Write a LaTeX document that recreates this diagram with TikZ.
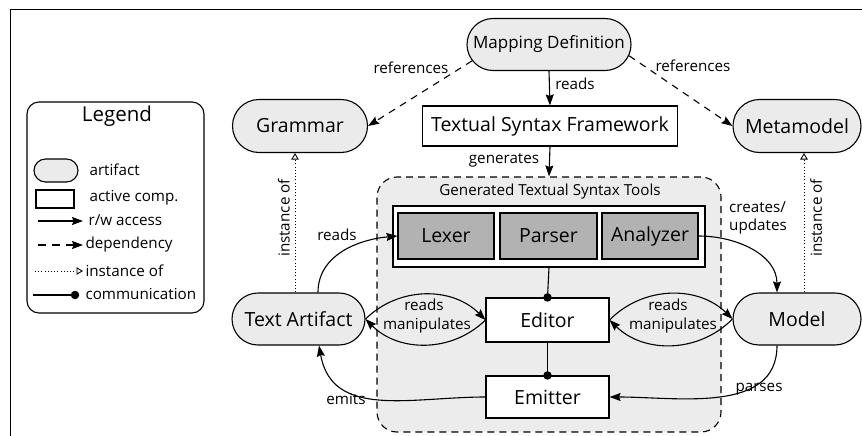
\documentclass[tikz,border=0pt]{standalone}
\usepackage{fontspec}
\setmainfont{Open Sans}
\usetikzlibrary{shapes.misc,arrows.meta}
\definecolor{artgray}{RGB}{235,235,235}
\definecolor{contgray}{RGB}{236,236,236}
\definecolor{innergray}{RGB}{178,178,178}
\begin{document}
\begin{tikzpicture}[x=1pt,y=-1pt,
  line width=1.1pt,
  every node/.style={inner sep=0pt, font=\fontsize{15.2}{17.5}\selectfont},
  art/.style={rounded rectangle, draw, fill=artgray, font=\fontsize{19.5}{22}\selectfont},
  comp/.style={rectangle, draw, fill=white, font=\fontsize{19.5}{22}\selectfont},
  tool/.style={rectangle, draw, fill=innergray, font=\fontsize{19.5}{22}\selectfont, minimum width=96, minimum height=46},
  lbl/.style={font=\fontsize{15.2}{17.5}\selectfont},
  rw/.style={-{Stealth[length=11pt,width=8pt,inset=1.5pt]}},
  dep/.style={rw, dash pattern=on 7pt off 6pt},
  inst/.style={-{Triangle[open,length=6.5pt,width=7.5pt,fill=white]}, line width=0.9pt, dash pattern=on 1pt off 2.2pt},
  dot/.style={circle, fill=black, draw=none, minimum size=8.5pt, inner sep=0pt},
]
\clip (0,0) rectangle (862,436);
% outer frame
\draw[line width=1pt] (10,10) rectangle (880,460);

% legend
\draw[rounded corners=12, fill=white] (27,102) rectangle (204,313);
\node[font=\fontsize{20.5}{24}\selectfont] (legtitle) at (117,116) {Legend};
\node[rounded rectangle, draw, fill=artgray, minimum width=44, minimum height=23] (legart) at (56,170.5) {};
\node[anchor=west] (legarttxt) at (89,170) {artifact};
\node[rectangle, draw, fill=white, minimum width=38, minimum height=18] (legcomp) at (55,199) {};
\node[anchor=west] (legcomptxt) at (89,198) {active comp.};
\coordinate (rwA) at (38,221); \coordinate (rwB) at (83,221);
\draw[rw] (rwA) -- (rwB);
\node[anchor=west] (legrw) at (88,220) {r/w access};
\coordinate (depA) at (38,245); \coordinate (depB) at (83,245);
\draw[rw, dash pattern=on 8pt off 6pt] (depA) -- (depB);
\node[anchor=west] (legdep) at (85,245) {dependency};
\coordinate (instA) at (35,271); \coordinate (instB) at (83,271);
\draw[inst] (instA) -- (instB);
\node[anchor=west] (leginst) at (85,271) {instance of};
\coordinate (comA) at (33,295);
\node[dot] (comB) at (75,295) {};
\draw (comA) -- (comB.center);
\node[anchor=west] (legcom) at (85,294) {communication};

% container
\node[draw, fill=contgray, rounded corners=20, dash pattern=on 7pt off 5pt, minimum width=344, minimum height=255] (GT) at (549,304.5) {};
\node (GTtitle) at (550,192) {Generated Textual Syntax Tools};
\node[draw, fill=white, minimum width=312, minimum height=61] (LPA) at (549,236.5) {};
\node[tool] (Lexer) at (446,236) {Lexer};
\node[tool, minimum width=97] (Parser) at (548.5,236) {Parser};
\node[tool] (Analyzer) at (650,236) {Analyzer};
\node[comp, minimum width=123, minimum height=44] (Editor) at (547.5,320) {Editor};
\node[comp, minimum width=123, minimum height=42] (Emitter) at (547.5,397) {Emitter};

% artifacts
\node[art, font=\fontsize{17}{20}\selectfont, minimum width=164, minimum height=52] (MD) at (549,44.5) {Mapping Definition};
\node[art, minimum width=135, minimum height=53] (Gr) at (300,126) {Grammar};
\node[art, minimum width=128, minimum height=53] (Mm) at (797,126) {Metamodel};
\node[comp, minimum width=255, minimum height=40] (TSF) at (550,126) {Textual Syntax Framework};
\node[art, minimum width=133, minimum height=52] (TA) at (298.5,319) {Text Artifact};
\node[art, minimum width=128, minimum height=52] (Model) at (797,319) {Model};

% connectors
\draw[dep] (MD.192) -- (Gr.east);
\node[lbl] (lref1) at (411,68) {references};
\draw[dep] (MD.-8) -- (Mm.west);
\node[lbl] (lref2) at (693,66) {references};
\draw[rw] (MD.south) -- (TSF.north);
\node[lbl] (lreads0) at (575,84) {reads};
\draw[rw] (TSF.south) -- (GT.north);
\node[lbl] (lgen) at (504,160) {generates};

\draw[inst] ([xshift=-3.5]TA.north) -- ([xshift=-3.5]TA.north |- Gr.south);
\node[lbl, rotate=90] (linst1) at (284,218) {instance of};
\draw[inst] ([xshift=7]Model.north) -- ([xshift=7]Model.north |- Mm.south);
\node[lbl, rotate=90] (linst2) at (816,218) {instance of};

\draw[rw] ([xshift=19.5]TA.north) to[out=90,in=185] (Lexer.west);
\node[lbl] (lreads1) at (337,235) {reads};
\draw[rw] (Analyzer.east) to[out=0,in=90] ([xshift=-20]Model.north);
\node[lbl, align=left] (lcreates) at (758,218) {creates/\\updates};
\draw[rw] ([xshift=-20]Model.south) to[out=-90,in=0] (Emitter.east);
\node[lbl] (lparses) at (759,389) {parses};
\draw[rw] (Emitter.west) to[out=180,in=-80, looseness=1.1] ([xshift=20.5]TA.south);
\node[lbl] (lemits) at (346,399) {emits};

\draw[rw] (TA.east) to[bend left=45] (Editor.west);
\draw[rw] (Editor.west) to[bend left=45] (TA.east);
\node[lbl] (lreads2) at (424,305) {reads};
\node[lbl] (lmanip1) at (427,326) {manipulates};
\draw[rw] (Editor.east) to[bend left=45] (Model.west);
\draw[rw] (Model.west) to[bend left=45] (Editor.east);
\node[lbl] (lreads3) at (668,305) {reads};
\node[lbl] (lmanip2) at (673,326) {manipulates};

\draw (LPA.south) -- (Editor.north) node[dot] (d1) {};
\draw (Editor.south) -- (Emitter.north) node[dot] (d2) {};
\end{tikzpicture}
\end{document}
